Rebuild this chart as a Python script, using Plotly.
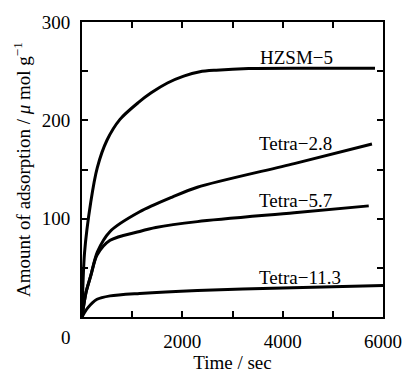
import plotly.graph_objects as go

# Data
t_hzsm = [0, 50, 175, 305, 500, 757, 1120, 1379, 1703, 2027, 2350, 2674, 3320, 4500, 5840]
v_hzsm = [0, 65, 117, 152, 180, 201, 218, 228, 238, 245, 249.4, 251, 252.7, 253, 253]

t_t28 = [0, 80, 175, 305, 560, 1150, 1800, 2300, 4230, 5780]
v_t28 = [0, 25, 42, 66, 87, 107, 122, 132, 156, 176]

t_t57 = [0, 80, 175, 300, 560, 1150, 1470, 2300, 4230, 5716]
v_t57 = [0, 25, 42, 63, 78, 87, 91, 97, 106, 113]

t_t113 = [0, 110, 300, 560, 1150, 2300, 4000, 6000]
v_t113 = [0, 9, 18, 21.5, 24, 27, 29.5, 32]

labels = ["HZSM\u22125", "Tetra\u22122.8", "Tetra\u22125.7", "Tetra\u221211.3"]
label_x = [4270, 4260, 4260, 4340]
label_y = [264, 176, 118.6, 40]

x_ticks = [2000, 4000, 6000]
x_ticktext = ["2000", "4000", "6000"]
y_ticks = [100, 200, 300]
y_ticktext = ["100", "200", "300"]

FONT = "Liberation Serif, Times New Roman, serif"

fig = go.Figure()
for t, v in [(t_hzsm, v_hzsm), (t_t28, v_t28), (t_t57, v_t57), (t_t113, v_t113)]:
    fig.add_trace(go.Scatter(x=t, y=v, mode="lines",
                             line=dict(color="black", width=3, shape="spline", smoothing=0.8),
                             showlegend=False, hoverinfo="skip"))

for lab, lx, ly in zip(labels, label_x, label_y):
    fig.add_annotation(x=lx, y=ly, text=lab, showarrow=False,
                       font=dict(family=FONT, size=19, color="black"),
                       xanchor="center", yanchor="middle")

# shared corner "0"
fig.add_annotation(xref="paper", yref="paper", x=-0.053, y=-0.068, text="0",
                   showarrow=False, font=dict(family=FONT, size=19, color="black"),
                   xanchor="center", yanchor="middle")

axis_common = dict(showgrid=False, zeroline=False, showline=True, linecolor="black",
                   linewidth=2, mirror="ticks", ticks="inside", ticklen=6, tickwidth=1.5,
                   tickcolor="black", tickfont=dict(family=FONT, size=19, color="black"))

fig.update_xaxes(range=[0, 6000], tickvals=x_ticks, ticktext=x_ticktext,
                 minor=dict(dtick=1000, ticks="inside", ticklen=6, tickwidth=1.5, tickcolor="black"),
                 title=dict(text="Time / sec", font=dict(family=FONT, size=19, color="black"), standoff=4),
                 ticklabelstandoff=6,
                 **axis_common)
fig.update_yaxes(range=[0, 300], tickvals=y_ticks, ticktext=y_ticktext,
                 minor=dict(dtick=50, ticks="inside", ticklen=6, tickwidth=1.5, tickcolor="black"),
                 title=dict(text="Amount of adsorption / <i>\u03bc</i> mol g<sup>\u22121</sup>",
                            font=dict(family=FONT, size=19, color="black"), standoff=6),
                 ticklabelstandoff=6,
                 **axis_common)

fig.update_layout(width=414, height=381, margin=dict(l=82, r=22, t=20, b=55),
                  paper_bgcolor="white", plot_bgcolor="white")

fig.write_html("out.html", config={"displayModeBar": False},
               post_script="document.body.style.margin='0';document.body.style.overflow='hidden';")
